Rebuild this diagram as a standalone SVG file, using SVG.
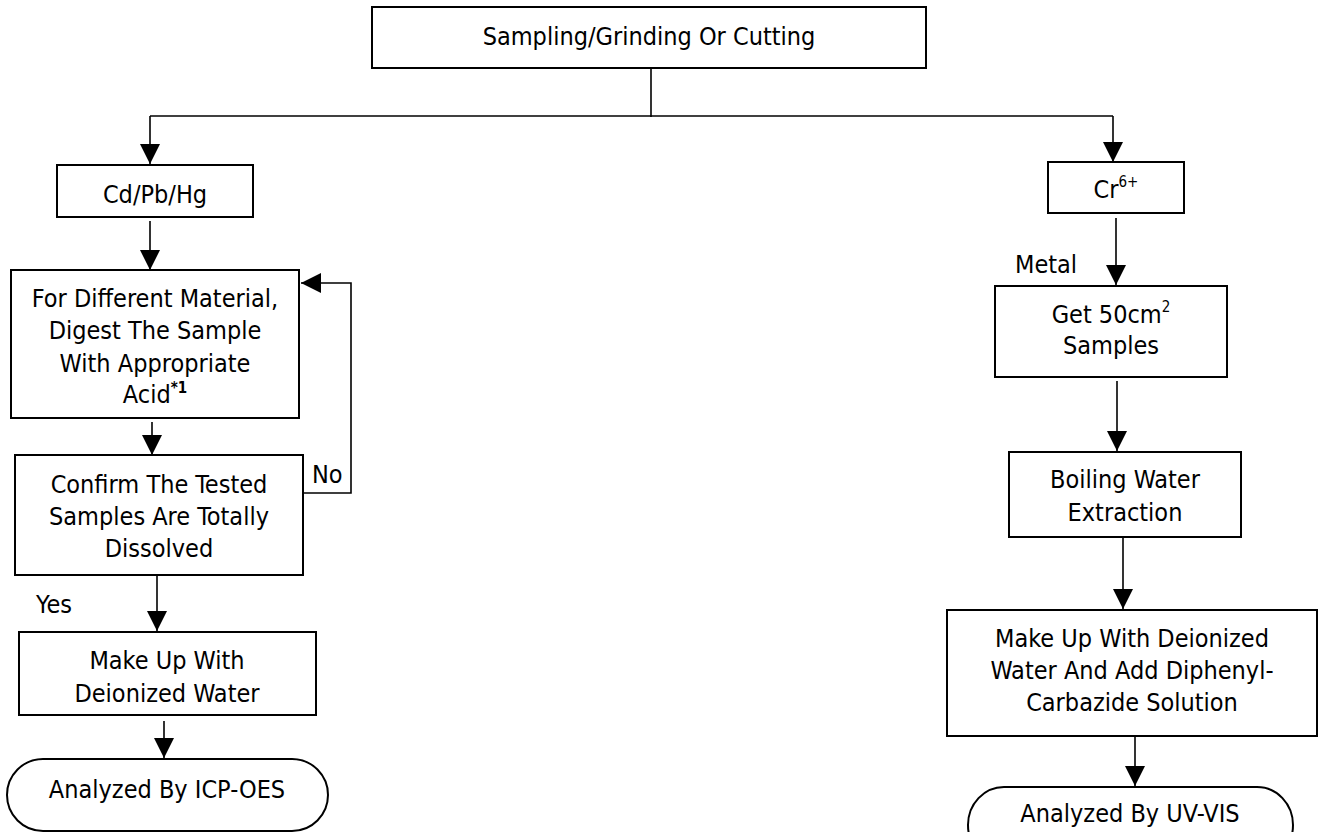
<svg xmlns="http://www.w3.org/2000/svg" width="1320" height="832" viewBox="0 0 1320 832">
<style>
.box{fill:#fff;stroke:#000;stroke-width:2}
.t{font-family:"DejaVu Sans Condensed","Liberation Sans",sans-serif;font-size:25px;fill:#000}
.c{text-anchor:middle}
.ln{fill:none;stroke:#000;stroke-width:1.6}
.sup{font-size:15px}
</style>
<defs>
<marker id="ah" markerUnits="userSpaceOnUse" markerWidth="20" markerHeight="20" refX="20" refY="10" orient="auto" viewBox="0 0 20 20">
<path d="M0,0 L20,10 L0,20 z" fill="#000"/>
</marker>
</defs>
<rect width="1320" height="832" fill="#fff"/>
<g id="connectors">
<path class="ln" d="M651,62 V117"/>
<path class="ln" d="M150,116 H1113"/>
<path class="ln" d="M150,116 V164" marker-end="url(#ah)"/>
<path class="ln" d="M1113,116 V162" marker-end="url(#ah)"/>
<path class="ln" d="M150,221 V270" marker-end="url(#ah)"/>
<path class="ln" d="M152,422 V455" marker-end="url(#ah)"/>
<path class="ln" d="M157,575 V631" marker-end="url(#ah)"/>
<path class="ln" d="M164,721 V758" marker-end="url(#ah)"/>
<path class="ln" d="M300,493 H351 V283 H301" marker-end="url(#ah)"/>
<path class="ln" d="M1116,218 V285" marker-end="url(#ah)"/>
<path class="ln" d="M1117,381 V451" marker-end="url(#ah)"/>
<path class="ln" d="M1123,537 V609" marker-end="url(#ah)"/>
<path class="ln" d="M1135,736 V786" marker-end="url(#ah)"/>
</g>
<g id="labels">
<text class="t" x="312" y="483">No</text>
<text class="t" x="36" y="613">Yes</text>
<text class="t" x="1015" y="273">Metal</text>
</g>
<g id="n-sampling">
<rect class="box" x="372" y="7" width="554" height="61"/>
<text class="t c" x="649" y="45">Sampling/Grinding Or Cutting</text>
</g>
<g id="n-cdpbhg">
<rect class="box" x="57" y="165" width="196" height="52"/>
<text class="t c" x="155" y="203">Cd/Pb/Hg</text>
</g>
<g id="n-digest">
<rect class="box" x="11" y="270" width="288" height="148"/>
<text class="t c" x="155" y="307">For Different Material,</text>
<text class="t c" x="155" y="339">Digest The Sample</text>
<text class="t c" x="155" y="372">With Appropriate</text>
<text class="t c" x="155" y="403">Acid<tspan class="sup" font-weight="bold" dy="-10">*1</tspan></text>
</g>
<g id="n-confirm">
<rect class="box" x="15" y="455" width="288" height="120"/>
<text class="t c" x="159" y="493">Confirm The Tested</text>
<text class="t c" x="159" y="525">Samples Are Totally</text>
<text class="t c" x="159" y="557">Dissolved</text>
</g>
<g id="n-makeup-left">
<rect class="box" x="19" y="632" width="297" height="83"/>
<text class="t c" x="167" y="669">Make Up With</text>
<text class="t c" x="167" y="702">Deionized Water</text>
</g>
<g id="n-icp">
<rect class="box" x="7" y="759" width="321" height="72" rx="36" ry="36"/>
<text class="t c" x="167" y="798">Analyzed By ICP-OES</text>
</g>
<g id="n-cr">
<rect class="box" x="1048" y="162" width="136" height="51"/>
<text class="t c" x="1116" y="198">Cr<tspan class="sup" dy="-11">6+</tspan></text>
</g>
<g id="n-get">
<rect class="box" x="995" y="286" width="232" height="91"/>
<text class="t c" x="1111" y="323">Get 50cm<tspan class="sup" dy="-11">2</tspan></text>
<text class="t c" x="1111" y="354">Samples</text>
</g>
<g id="n-boiling">
<rect class="box" x="1009" y="452" width="232" height="85"/>
<text class="t c" x="1125" y="488">Boiling Water</text>
<text class="t c" x="1125" y="521">Extraction</text>
</g>
<g id="n-makeup-right">
<rect class="box" x="947" y="610" width="370" height="126"/>
<text class="t c" x="1132" y="647">Make Up With Deionized</text>
<text class="t c" x="1132" y="679">Water And Add Diphenyl-</text>
<text class="t c" x="1132" y="711">Carbazide Solution</text>
</g>
<g id="n-uv">
<rect class="box" x="968" y="787" width="325" height="76" rx="36" ry="38"/>
<text class="t c" x="1130" y="822">Analyzed By UV-VIS</text>
</g>
</svg>
